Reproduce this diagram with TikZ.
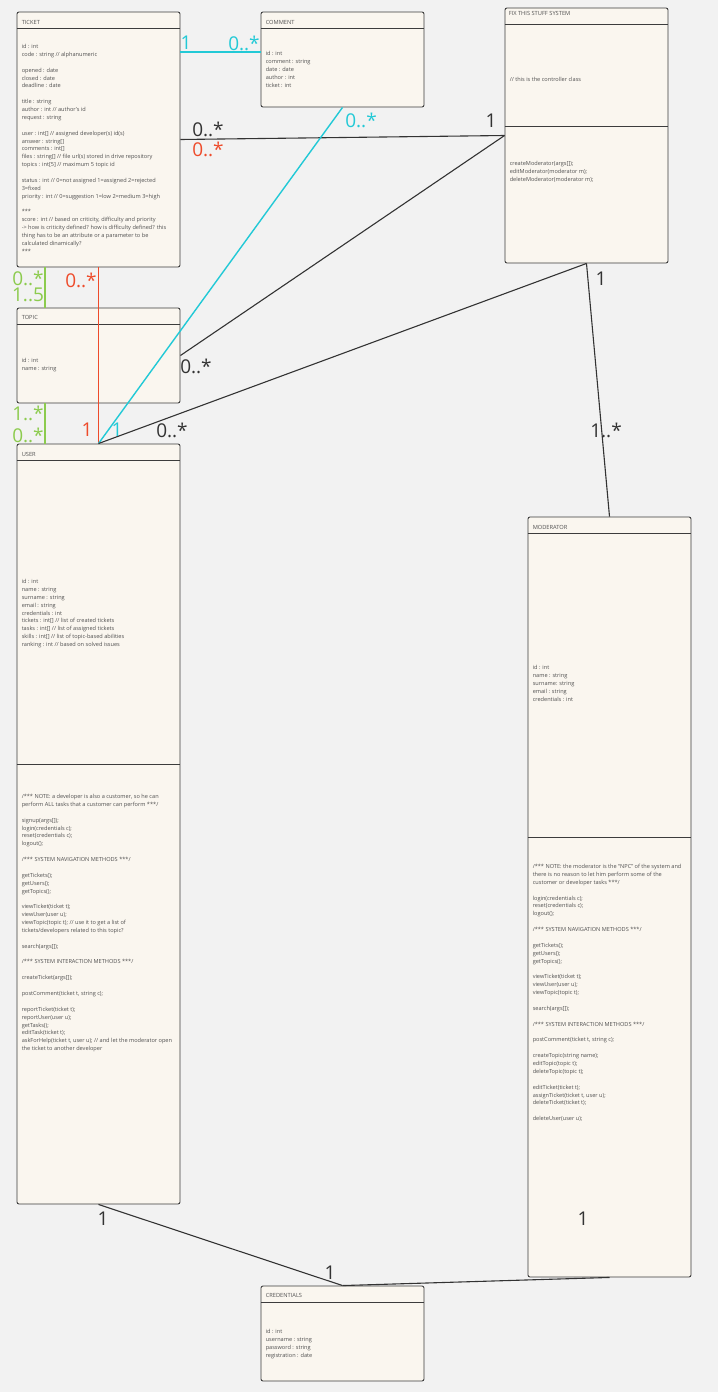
\documentclass[tikz,border=0pt]{standalone}
\usepackage{fontspec}
\setmainfont{Open Sans}
\definecolor{pagebg}{HTML}{F2F2F2}
\definecolor{boxfill}{HTML}{FAF6EF}
\definecolor{boxline}{HTML}{3C3C3C}
\definecolor{txtgray}{HTML}{505050}
\definecolor{lineblack}{HTML}{333333}
\definecolor{assoccyan}{HTML}{22C9D6}
\definecolor{assocred}{HTML}{EE4B2B}
\definecolor{assocgreen}{HTML}{8CCB4E}
\newcommand\skipline{\\[7.88pt]}
\begin{document}
\begin{tikzpicture}[x={(1pt,0pt)}, y={(0pt,-1pt)},
  umlclass/.style={draw=boxline, fill=boxfill, rounded corners=2pt, line width=0.9pt,
    inner sep=0pt, minimum width=163pt},
  classtitle/.style={anchor=base west, inner sep=0pt, text=txtgray,
    font=\fontsize{5.7}{6}\selectfont},
  members/.style={anchor=north west, inner sep=0pt, align=left, text=txtgray,
    font=\fontsize{5.6}{7.88}\selectfont,
    execute at begin node={\rule{0pt}{6pt}}},
  divider/.style={draw=boxline, line width=0.9pt},
  mult/.style={inner sep=0pt, font=\fontsize{19}{19}\selectfont},
  assoc/.style={draw=lineblack, line width=1.1pt},
  assoccy/.style={draw=assoccyan, line width=1.4pt},
  assocrd/.style={draw=assocred, line width=1.2pt},
  assocgr/.style={draw=assocgreen, line width=1.4pt}]

% canvas
\fill[pagebg] (0,0) rectangle (718,1392);
\useasboundingbox (0,0) rectangle (718,1392);

\coordinate (ticketC) at (98.5,139.5);
\coordinate (commentC) at (342.5,59.5);
\coordinate (fixC) at (586.5,135.5);
\coordinate (topicC) at (98.5,355.5);
\coordinate (userC) at (98.5,824);
\coordinate (modC) at (609.5,897);
\coordinate (credC) at (342.5,1333.5);

% ---------- class boxes ----------
\node[umlclass, minimum height=255pt] (ticket) at (ticketC) {};
\node[umlclass, minimum height=95pt] (comment) at (commentC) {};
\node[umlclass, minimum height=255pt] (fix) at (fixC) {};
\node[umlclass, minimum height=95pt] (topic) at (topicC) {};
\node[umlclass, minimum height=760pt] (user) at (userC) {};
\node[umlclass, minimum height=760pt] (moderator) at (modC) {};
\node[umlclass, minimum height=95pt] (credentials) at (credC) {};

% header and compartment lines
\draw[divider] ([shift={(0,17)}]ticket.north west) -- ([shift={(0,17)}]ticket.north east);
\draw[divider] ([shift={(0,17)}]comment.north west) -- ([shift={(0,17)}]comment.north east);
\draw[divider] ([shift={(0,17)}]fix.north west) -- ([shift={(0,17)}]fix.north east);
\draw[divider] ([shift={(0,119)}]fix.north west) -- ([shift={(0,119)}]fix.north east);
\draw[divider] ([shift={(0,17)}]topic.north west) -- ([shift={(0,17)}]topic.north east);
\draw[divider] ([shift={(0,17)}]user.north west) -- ([shift={(0,17)}]user.north east);
\draw[divider] ([shift={(0,321)}]user.north west) -- ([shift={(0,321)}]user.north east);
\draw[divider] ([shift={(0,17)}]moderator.north west) -- ([shift={(0,17)}]moderator.north east);
\draw[divider] ([shift={(0,321)}]moderator.north west) -- ([shift={(0,321)}]moderator.north east);
\draw[divider] ([shift={(0,17)}]credentials.north west) -- ([shift={(0,17)}]credentials.north east);

% ---------- associations ----------
\draw[assoccy, line width=1.8pt] ([shift={(0,40.5)}]ticket.north east) -- ([shift={(0,40.5)}]comment.north west);
\draw[assoc] (ticket.east) -- (fix.west);
\draw[assocrd] (ticket.south) -- (user.north);
\draw[assocgr] ([shift={(28.5,0)}]ticket.south west) -- ([shift={(28.5,0)}]topic.north west);
\draw[assocgr] ([shift={(28.5,0)}]topic.south west) -- ([shift={(28.5,0)}]user.north west);
\draw[assoccy] (comment.south) -- (user.north);
\draw[assoc] (fix.west) -- (topic.east);
\draw[assoc] (fix.south) -- (user.north);
\draw[assoc] (fix.south) -- (moderator.north);
\draw[assoc] (user.south) -- (credentials.north);
\draw[assoc] (moderator.south) -- (credentials.north);

% ---------- multiplicities ----------
\node[mult, text=assoccyan] (m1) at (186,43) {1};
\node[mult, text=assoccyan] (m2) at (244,43) {0..*};
\node[mult, text=lineblack] (m3) at (208,129) {0..*};
\node[mult, text=assocred] (m4) at (208,149) {0..*};
\node[mult, text=lineblack] (m5) at (491,121) {1};
\node[mult, text=assoccyan] (m6) at (361,120) {0..*};
\node[mult, text=assocgreen] (m7) at (28,278) {0..*};
\node[mult, text=assocgreen] (m8) at (28,295) {1..5};
\node[mult, text=assocred] (m9) at (81,280) {0..*};
\node[mult, text=lineblack] (m10) at (196,366) {0..*};
\node[mult, text=assocgreen] (m11) at (28,413) {1..*};
\node[mult, text=assocgreen] (m12) at (28,435) {0..*};
\node[mult, text=assocred] (m13) at (87,430) {1};
\node[mult, text=assoccyan] (m14) at (117,430) {1};
\node[mult, text=lineblack] (m15) at (172,430) {0..*};
\node[mult, text=lineblack] (m16) at (601,279) {1};
\node[mult, text=lineblack] (m17) at (606,430) {1..*};
\node[mult, text=lineblack] (m18) at (103,1219) {1};
\node[mult, text=lineblack] (m19) at (583,1219) {1};
\node[mult, text=lineblack] (m20) at (330,1273) {1};

% ---------- TICKET ----------
\node[classtitle] (ticketT) at ([shift={(5,12.5)}]ticket.north west) {TICKET};
\node[members] (ticketA) at ([shift={(5,32.5)}]ticket.north west) {%
id : int\\
code : string // alphanumeric\skipline
opened : date\\
closed : date\\
deadline : date\skipline
title : string\\
author : int // author's id\\
request : string\skipline
user : int[] // assigned developer(s) id(s)\\
answer : string[]\\
comments : int[]\\
files : string[] // file url(s) stored in drive repository\\
topics : int[5] // maximum 5 topic id\skipline
status : int // 0=not assigned 1=assigned 2=rejected\\
3=fixed\\
priority : int // 0=suggestion 1=low 2=medium 3=high\skipline
***\\
score : int // based on criticity, difficulty and priority\\
-> how is criticity defined? how is difficulty defined? this\\
thing has to be an attribute or a parameter to be\\
calculated dinamically?\\
***};

% ---------- COMMENT ----------
\node[classtitle] (commentT) at ([shift={(5,13)}]comment.north west) {COMMENT};
\node[members] (commentA) at ([shift={(5,39.5)}]comment.north west) {%
id : int\\
comment : string\\
date : date\\
author : int\\
ticket : int};

% ---------- FIX THIS STUFF SYSTEM ----------
\node[classtitle] (fixT) at ([shift={(4,8)}]fix.north west) {FIX THIS STUFF SYSTEM};
\node[members] (fixA) at ([shift={(5,67.5)}]fix.north west) {// this is the controller class};
\node[members] (fixM) at ([shift={(5,153.5)}]fix.north west) {%
createModerator(args[]);\\
editModerator(moderator m);\\
deleteModerator(moderator m);};

% ---------- TOPIC ----------
\node[classtitle] (topicT) at ([shift={(5,12)}]topic.north west) {TOPIC};
\node[members] (topicA) at ([shift={(5,50.5)}]topic.north west) {%
id : int\\
name : string};

% ---------- USER ----------
\node[classtitle] (userT) at ([shift={(5,13)}]user.north west) {USER};
\node[members] (userA) at ([shift={(5,135.5)}]user.north west) {%
id : int\\
name : string\\
surname : string\\
email : string\\
credentials : int\\
tickets : int[] // list of created tickets\\
tasks : int[] // list of assigned tickets\\
skills : int[] // list of topic-based abilities\\
ranking : int // based on solved issues};
\node[members] (userM) at ([shift={(5,350.5)}]user.north west) {%
/*** NOTE: a developer is also a customer, so he can\\
perform ALL tasks that a customer can perform ***/\skipline
signup(args[]);\\
login(credentials c);\\
reset(credentials c);\\
logout();\skipline
/*** SYSTEM NAVIGATION METHODS ***/\skipline
getTickets();\\
getUsers();\\
getTopics();\skipline
viewTicket(ticket t);\\
viewUser(user u);\\
viewTopic(topic t); // use it to get a list of\\
tickets/developers related to this topic?\skipline
search(args[]);\skipline
/*** SYSTEM INTERACTION METHODS ***/\skipline
createTicket(args[]);\skipline
postComment(ticket t, string c);\skipline
reportTicket(ticket t);\\
reportUser(user u);\\
getTasks();\\
editTask(ticket t);\\
askForHelp(ticket t, user u); // and let the moderator open\\
the ticket to another developer};

% ---------- MODERATOR ----------
\node[classtitle] (modT) at ([shift={(5,13)}]moderator.north west) {MODERATOR};
\node[members] (modA) at ([shift={(5,148.5)}]moderator.north west) {%
id : int\\
name : string\\
surname: string\\
email : string\\
credentials : int};
\node[members] (modM) at ([shift={(5,347.5)}]moderator.north west) {%
/*** NOTE: the moderator is the “NPC” of the system and\\
there is no reason to let him perform some of the\\
customer or developer tasks ***/\skipline
login(credentials c);\\
reset(credentials c);\\
logout();\skipline
/*** SYSTEM NAVIGATION METHODS ***/\skipline
getTickets();\\
getUsers();\\
getTopics();\skipline
viewTicket(ticket t);\\
viewUser(user u);\\
viewTopic(topic t);\skipline
search(args[]);\skipline
/*** SYSTEM INTERACTION METHODS ***/\skipline
postComment(ticket t, string c);\skipline
createTopic(string name);\\
editTopic(topic t);\\
deleteTopic(topic t);\skipline
editTicket(ticket t);\\
assignTicket(ticket t, user u);\\
deleteTicket(ticket t);\skipline
deleteUser(user u);};

% ---------- CREDENTIALS ----------
\node[classtitle] (credT) at ([shift={(5,12)}]credentials.north west) {CREDENTIALS};
\node[members] (credA) at ([shift={(5,43.5)}]credentials.north west) {%
id : int\\
username : string\\
password : string\\
registration : date};

\end{tikzpicture}
\end{document}
